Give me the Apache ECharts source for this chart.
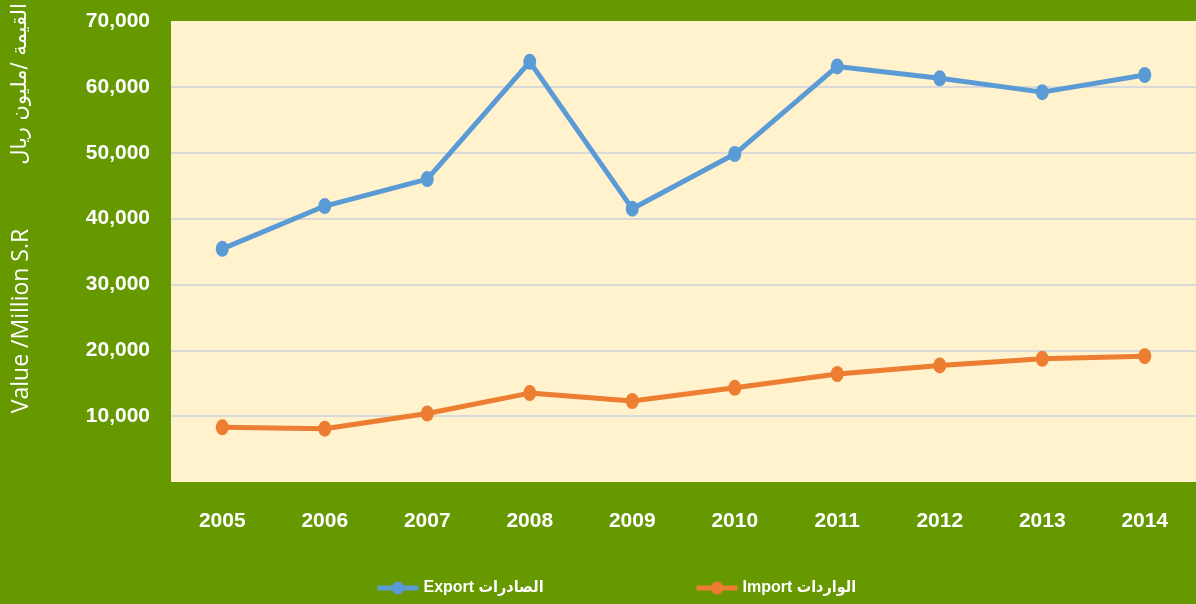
<!DOCTYPE html>
<html>
<head>
    <meta charset="utf-8">
    <title>Export / Import</title>
    <script src="https://cdn.jsdelivr.net/npm/echarts@6/dist/echarts.min.js"></script>
    <style>
        html, body { margin: 0; padding: 0; background: #669900; }
        #main { width: 1196px; height: 604px; }
    </style>
</head>
<body>
<div id="main"></div>
<script type="text/javascript">
    // data
    var years = ['2005', '2006', '2007', '2008', '2009', '2010', '2011', '2012', '2013', '2014'];
    var exportValues = [35400, 41900, 46000, 63800, 41500, 49800, 63100, 61300, 59200, 61800];
    var importValues = [8300, 8100, 10400, 13500, 12300, 14300, 16400, 17700, 18700, 19100];
    var exportName = 'Export الصادرات';
    var importName = 'Import الواردات';

    var labelFont = '"Liberation Sans", "DejaVu Sans", sans-serif';
    var legendFont = '"Liberation Sans", "DejaVu Sans Condensed", "DejaVu Sans", sans-serif';

    var chart = echarts.init(document.getElementById('main'));

    function lineSeries(name, data, color) {
        return {
            name: name,
            type: 'line',
            data: data,
            symbol: 'circle',
            symbolSize: [13, 16],
            lineStyle: {width: 5, color: color},
            itemStyle: {color: color},
            emphasis: {disabled: true}
        };
    }

    function legendAt(left, name) {
        return {
            left: left,
            top: 575,
            itemWidth: 41,
            itemHeight: 16,
            itemGap: 4,
            lineStyle: {width: 5},
            textStyle: {color: '#fff', fontSize: 16, fontWeight: 'bold', fontFamily: legendFont},
            data: [name]
        };
    }

    var option = {
        backgroundColor: '#669900',
        animation: false,
        grid: {
            left: 171,
            top: 21,
            right: 0,
            bottom: 122,
            show: true,
            backgroundColor: '#FFF2CC',
            borderWidth: 0
        },
        legend: [
            legendAt(370, exportName),
            legendAt(689, importName)
        ],
        graphic: [
            {
                type: 'text',
                x: 10, y: 321,
                rotation: Math.PI / 2,
                style: {
                    text: 'Value /Million S.R',
                    fill: '#fff',
                    font: '23px "Open Sans", sans-serif',
                    align: 'center',
                    verticalAlign: 'top'
                }
            },
            {
                type: 'text',
                x: 10, y: 84,
                rotation: Math.PI / 2,
                style: {
                    text: 'القيمة /مليون ريال',
                    fill: '#fff',
                    font: '21px "DejaVu Sans", sans-serif',
                    align: 'center',
                    verticalAlign: 'top'
                }
            }
        ],
        xAxis: {
            type: 'category',
            data: years,
            boundaryGap: true,
            axisLine: {show: false},
            axisTick: {show: false},
            axisLabel: {
                color: '#fff',
                fontSize: 21,
                fontWeight: 'bold',
                fontFamily: labelFont,
                margin: 29
            }
        },
        yAxis: {
            type: 'value',
            min: 0,
            max: 70000,
            interval: 10000,
            axisLine: {show: false},
            axisTick: {show: false},
            splitLine: {
                showMinLine: false,
                showMaxLine: false,
                lineStyle: {color: '#D9D9D9', width: 2}
            },
            axisLabel: {
                color: '#fff',
                fontSize: 21,
                fontWeight: 'bold',
                fontFamily: labelFont,
                margin: 21,
                formatter: function (v) {
                    return v === 0 ? '' : echarts.format.addCommas(v);
                }
            }
        },
        series: [
            lineSeries(exportName, exportValues, '#5B9BD5'),
            lineSeries(importName, importValues, '#ED7D31')
        ]
    };

    chart.setOption(option);
</script>
</body>
</html>
